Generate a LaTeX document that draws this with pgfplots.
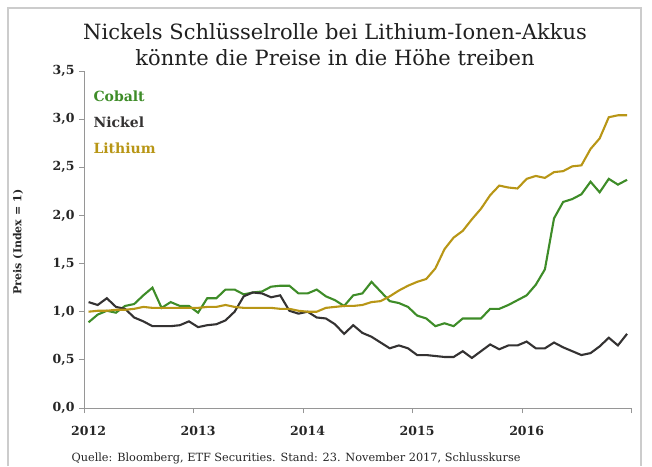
\documentclass[border=0pt]{standalone}
\usepackage{fontspec}
\setmainfont{DejaVu Serif}
\usepackage{pgfplots}
\pgfplotsset{compat=1.18}
\definecolor{CobaltGreen}{RGB}{62,140,40}
\definecolor{NickelGray}{RGB}{52,50,50}
\definecolor{LithiumGold}{RGB}{184,150,22}
\definecolor{AxisGray}{RGB}{150,150,150}

% monthly index values, Jan 2012 = month 0, plotted at month centres
\pgfplotstableread{
m     cobalt nickel lithium
0.5   0.89   1.10   1.00
1.5   0.97   1.07   1.01
2.5   1.01   1.14   1.01
3.5   0.99   1.05   1.02
4.5   1.06   1.03   1.02
5.5   1.08   0.94   1.03
6.5   1.17   0.90   1.05
7.5   1.25   0.85   1.04
8.5   1.04   0.85   1.04
9.5   1.10   0.85   1.04
10.5  1.06   0.86   1.04
11.5  1.06   0.90   1.04
12.5  0.99   0.84   1.04
13.5  1.14   0.86   1.05
14.5  1.14   0.87   1.05
15.5  1.23   0.91   1.07
16.5  1.23   1.00   1.05
17.5  1.18   1.16   1.04
18.5  1.20   1.20   1.04
19.5  1.21   1.19   1.04
20.5  1.26   1.15   1.04
21.5  1.27   1.17   1.03
22.5  1.27   1.01   1.03
23.5  1.19   0.98   1.01
24.5  1.19   1.00   1.00
25.5  1.23   0.94   1.00
26.5  1.16   0.93   1.04
27.5  1.12   0.87   1.05
28.5  1.06   0.77   1.06
29.5  1.17   0.86   1.06
30.5  1.19   0.78   1.07
31.5  1.31   0.74   1.10
32.5  1.21   0.68   1.11
33.5  1.11   0.62   1.16
34.5  1.09   0.65   1.22
35.5  1.05   0.62   1.27
36.5  0.96   0.55   1.31
37.5  0.93   0.55   1.34
38.5  0.85   0.54   1.45
39.5  0.88   0.53   1.65
40.5  0.85   0.53   1.77
41.5  0.93   0.59   1.84
42.5  0.93   0.52   1.96
43.5  0.93   0.59   2.07
44.5  1.03   0.66   2.21
45.5  1.03   0.61   2.31
46.5  1.07   0.65   2.29
47.5  1.12   0.65   2.28
48.5  1.17   0.69   2.38
49.5  1.28   0.62   2.41
50.5  1.44   0.62   2.39
51.5  1.97   0.68   2.45
52.5  2.14   0.63   2.46
53.5  2.17   0.59   2.51
54.5  2.22   0.55   2.52
55.5  2.35   0.57   2.69
56.5  2.24   0.64   2.80
57.5  2.38   0.73   3.02
58.5  2.32   0.65   3.04
59.5  2.37   0.77   3.04
}\metals

\begin{document}
\begin{tikzpicture}[x=1pt,y=1pt]
\useasboundingbox (0,0) rectangle (652,-466);
\draw[black!20, line width=1.6pt] (8,-466) -- (8,-8) -- (641,-8) -- (641,-466);

\node[font=\fontsize{21}{26}\selectfont, align=center, text=black!88] at (335,-45)
  {Nickels Schlüsselrolle bei Lithium-Ionen-Akkus\\könnte die Preise in die Höhe treiben};

\begin{axis}[
    at={(84pt,-408pt)},
    anchor=south west,
    scale only axis,
    width=547.6pt,
    height=337pt,
    xmin=0, xmax=60,
    ymin=0, ymax=3.5,
    axis lines=left,
    axis line style={-, draw=AxisGray, line width=0.9pt},
    tick align=outside,
    tick style={draw=AxisGray, line width=0.9pt},
    major tick length=5pt,
    minor tick length=5pt,
    xtick={0.5,12.5,24.5,36.5,48.5},
    xticklabels={2012,2013,2014,2015,2016},
    major x tick style={draw=none},
    minor xtick={0,12,24,36,48,60},
    ytick={0,0.5,1,1.5,2,2.5,3,3.5},
    yticklabel style={xshift=-1pt, /pgf/number format/.cd, fixed, fixed zerofill, precision=1, use comma},
    /pgf/number format/assume math mode=true,
    tick label style={font=\fontsize{12.5}{15}\selectfont\bfseries, text=black!85},
    xticklabel style={yshift=-10pt},
    clip=false,
]
\addplot[CobaltGreen, line width=2.1pt] table[x=m, y=cobalt] {\metals};
\addplot[NickelGray, line width=2.1pt] table[x=m, y=nickel] {\metals};
\addplot[LithiumGold, line width=2.1pt] table[x=m, y=lithium] {\metals};
\end{axis}

\node[rotate=90, font=\fontsize{11}{13}\selectfont\bfseries, text=black!85] at (18,-242) {Preis (Index = 1)};

\node[anchor=west, font=\fontsize{14}{17}\selectfont\bfseries, text=CobaltGreen] at (90,-96) {Cobalt};
\node[anchor=west, font=\fontsize{14}{17}\selectfont\bfseries, text=NickelGray] at (90,-122) {Nickel};
\node[anchor=west, font=\fontsize{14}{17}\selectfont\bfseries, text=LithiumGold] at (90,-148) {Lithium};

\node[anchor=west, font=\fontsize{11.3}{14}\selectfont, text=black!85] at (68,-458)
  {Quelle: Bloomberg, ETF Securities. Stand: 23. November 2017, Schlusskurse};
\end{tikzpicture}
\end{document}
